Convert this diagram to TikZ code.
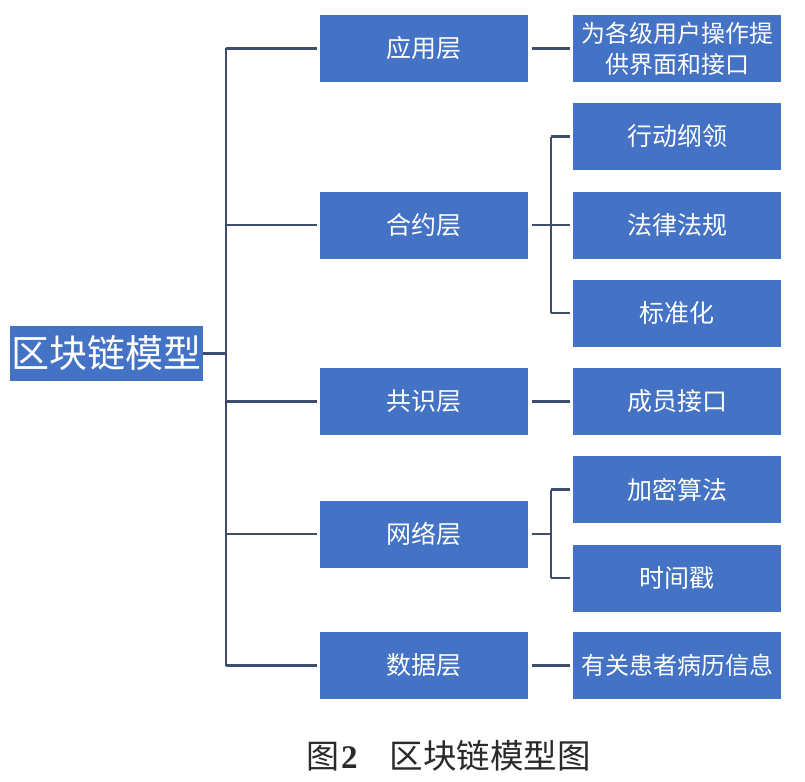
\documentclass[tikz,border=0pt]{standalone}
\usepackage{fontspec}
\setmainfont{Liberation Serif}
\newfontfamily\cjk{Noto Sans CJK SC}
\definecolor{boxblue}{HTML}{4472C4}
\definecolor{linecol}{HTML}{3E4C6E}
\definecolor{captcol}{HTML}{2A2A2A}
\tikzset{
  box/.style={draw=none, fill=boxblue, text=white, inner sep=0pt, align=center,
    minimum width=208pt, minimum height=67pt, font=\cjk\fontsize{25}{30}\selectfont},
  rootbox/.style={draw=none, fill=boxblue, text=white, inner sep=0pt,
    minimum width=193pt, minimum height=55pt, font=\cjk\fontsize{38}{40}\selectfont},
  conn/.style={draw=linecol, line width=2.8pt},
}
\begin{document}
\begin{tikzpicture}[x=1pt,y=-1pt]
\useasboundingbox (0,0) rectangle (805,781);
\fill[white] (0,0) rectangle (805,781);
% root
\node[rootbox] (root) at (106.5,353.5) {区块链模型};
% middle column
\node[box] (app) at (424,48.5) {应用层};
\node[box] (con) at (424,225) {合约层};
\node[box] (cons) at (424,401.5) {共识层};
\node[box] (net) at (424,534) {网络层};
\node[box] (dat) at (424,665.5) {数据层};
% right column
\node[box, font=\cjk\fontsize{24}{31}\selectfont] (r1) at (677,48.5) {为各级用户操作提\\供界面和接口};
\node[box] (r2) at (677,136.5) {行动纲领};
\node[box] (r3) at (677,225) {法律法规};
\node[box] (r4) at (677,313) {标准化};
\node[box] (r5) at (677,401.5) {成员接口};
\node[box] (r6) at (677,489.5) {加密算法};
\node[box] (r7) at (677,578) {时间戳};
\node[box, font=\cjk\fontsize{24}{30}\selectfont] (r8) at (677,665.5) {有关患者病历信息};
% helper coordinates
\coordinate (trunk) at (226,0);
\coordinate (bA) at (551,0);
\coordinate (bB) at (551,0);
% root to trunk
\draw[conn] (root.east) -- (root.east -| trunk);
\draw[conn] (app.west -| trunk) -- (dat.west -| trunk);
\foreach \n in {app,con,cons,net,dat}{
  \draw[conn, shorten >=3pt] (\n.west -| trunk) -- (\n.west);
}
% middle to right
\draw[conn, shorten <=4pt, shorten >=3pt] (app.east) -- (r1.west);
\draw[conn, shorten <=4pt, shorten >=3pt] (cons.east) -- (r5.west);
\draw[conn, shorten <=4pt, shorten >=3pt] (dat.east) -- (r8.west);
% bracket contract layer
\draw[conn, shorten <=4pt] (con.east) -- (con.east -| bA);
\draw[conn, shorten >=3pt] (r2.west -| bA) -- (r2.west);
\draw[conn, shorten >=3pt] (r3.west -| bA) -- (r3.west);
\draw[conn, shorten >=3pt] (r4.west -| bA) -- (r4.west);
\draw[conn] (r2.west -| bA) -- (r4.west -| bA);
% bracket network layer
\draw[conn, shorten <=4pt] (net.east) -- (net.east -| bB);
\draw[conn, shorten >=3pt] (r6.west -| bB) -- (r6.west);
\draw[conn, shorten >=3pt] (r7.west -| bB) -- (r7.west);
\draw[conn] (r6.west -| bB) -- (r7.west -| bB);
% caption
\node[anchor=west, inner sep=0pt, text=captcol] (cap) at (306,756)
  {{\cjk\fontsize{33}{36}\selectfont 图}\hspace{2pt}{\fontsize{33}{36}\selectfont\bfseries 2}\hspace{32pt}{\cjk\fontsize{33.5}{36}\selectfont 区块链模型图}};
\end{tikzpicture}
\end{document}
